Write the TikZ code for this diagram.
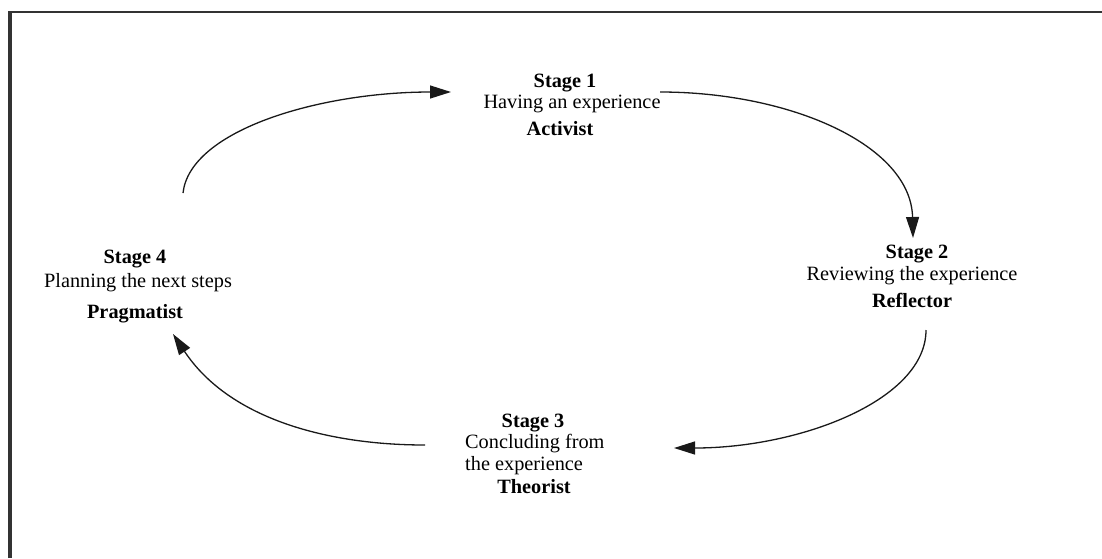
\documentclass[tikz,border=0pt]{standalone}
\usepackage{fontspec}
\setmainfont{Liberation Serif}
\usetikzlibrary{arrows.meta}
\begin{document}
\begin{tikzpicture}[x=1pt,y=-1pt,
  lbl/.style={inner sep=0pt, text height=14pt, text depth=4pt, font=\fontsize{20.3}{22}\selectfont},
  hd/.style={lbl, font=\fontsize{20.3}{22}\selectfont\bfseries},
  cyc/.style={line width=1.3pt, color=black!90, -{Triangle[length=21pt,width=13pt]}},
  frame/.style={color=black!80}]
\useasboundingbox (0,0) rectangle (1102,558);
% frame (left and top edges only)
\coordinate (fbl) at (10,558);
\coordinate (ftl) at (10,12);
\coordinate (ftr) at (1102,12);
\draw[frame, line width=3.5pt] (fbl) -- (10,10.5);
\draw[frame, line width=2pt] (ftl) -- (ftr);
% Stage 1
\node[hd]  (s1a) at (565,82)  {Stage 1};
\node[lbl] (s1b) at (572,103) {Having an experience};
\node[hd]  (s1c) at (560,130) {Activist};
% Stage 2
\node[hd]  (s2a) at (917,253) {Stage 2};
\node[lbl] (s2b) at (912,275) {Reviewing the experience};
\node[hd]  (s2c) at (912,302) {Reflector};
% Stage 3
\node[hd]  (s3a) at (533,422) {Stage 3};
\node[lbl, anchor=west] (s3b) at (465,443) {Concluding from};
\node[lbl, anchor=west] (s3c) at (465,465) {the experience};
\node[hd]  (s3d) at (534,488) {Theorist};
% Stage 4
\node[hd]  (s4a) at (135,258) {Stage 4};
\node[lbl] (s4b) at (138,282) {Planning the next steps};
\node[hd]  (s4c) at (135,313) {Pragmatist};
% connector end points
\coordinate (a1s) at (183,193);
\coordinate (a1e) at (451,92);
\coordinate (a2s) at (660,92);
\coordinate (a2e) at (913,238);
\coordinate (a3s) at (926,330);
\coordinate (a3e) at (674,448);
\coordinate (a4s) at (425,445);
\coordinate (a4e) at (173,334);
% cycle arrows
\draw[cyc] (a1s) .. controls (190,130) and (320,92) .. (a1e);
\draw[cyc] (a2s) .. controls (790,92) and (911,145) .. (a2e);
\draw[cyc] (a3s) .. controls (926,400) and (800,448) .. (a3e);
\draw[cyc] (a4s) .. controls (330,445) and (230,420) .. (a4e);
\end{tikzpicture}
\end{document}
